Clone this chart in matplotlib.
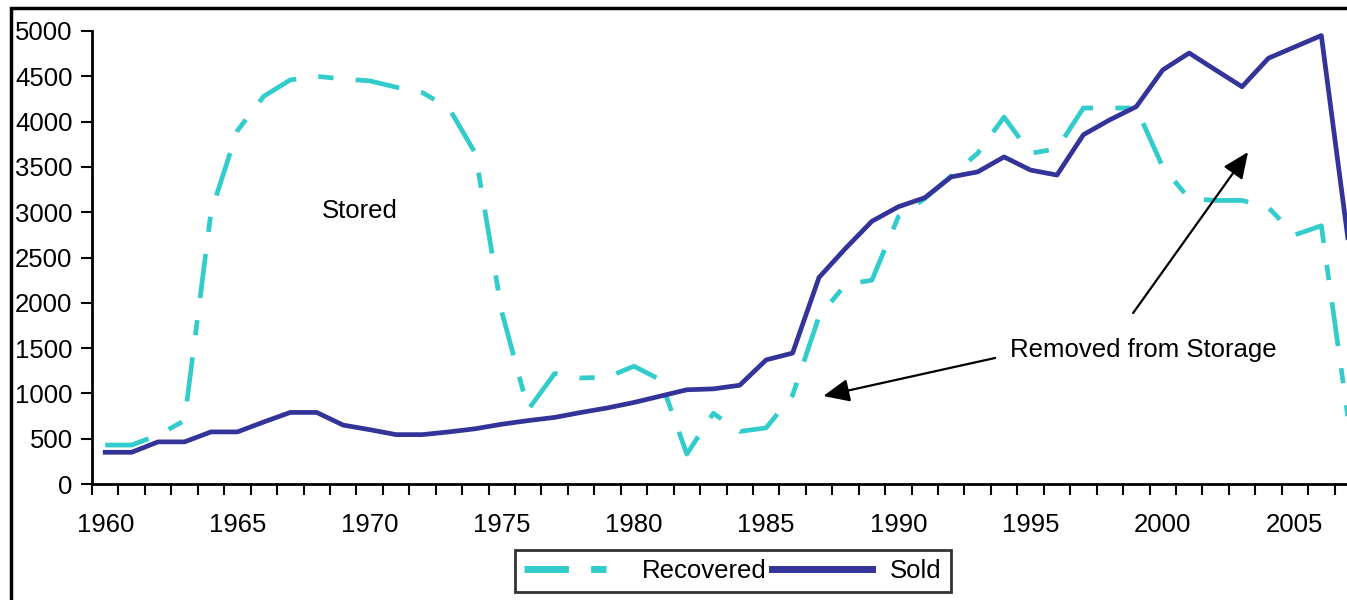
import matplotlib
matplotlib.use("Agg")
import matplotlib.pyplot as plt
from matplotlib.patches import Rectangle

# values
years = list(range(1960, 2008))
recovered = [430, 430, 540, 700, 3000, 3900, 4280, 4460, 4500, 4470,
             4450, 4380, 4320, 4150, 3650, 1900, 820, 1220, 1170, 1180,
             1300, 1150, 330, 780, 580, 620, 980, 1850, 2200, 2250,
             2950, 3150, 3400, 3650, 4050, 3650, 3700, 4150, 4150, 4150,
             3500, 3150, 3130, 3130, 3050, 2750, 2850, 750]
sold = [350, 350, 465, 465, 575, 575, 685, 790, 790, 650,
        600, 545, 545, 575, 610, 660, 700, 735, 790, 840,
        900, 970, 1040, 1050, 1090, 1370, 1445, 2280, 2600, 2900,
        3060, 3160, 3390, 3445, 3610, 3465, 3410, 3855, 4020, 4165,
        4570, 4757, 4570, 4385, 4700, 4825, 4950, 2720]
label_years = [1960, 1965, 1970, 1975, 1980, 1985, 1990, 1995, 2000, 2005]
y_ticks = [0, 500, 1000, 1500, 2000, 2500, 3000, 3500, 4000, 4500, 5000]

plt.rcParams['font.family'] = ['Liberation Sans', 'DejaVu Sans']
plt.rcParams['lines.scale_dashes'] = False
fs = 18.5

fig = plt.figure(figsize=(13.47, 6.0), dpi=100)
ax = fig.add_axes([92/1347, 116/600, 1269/1347, 453/600])

ax.plot(years, recovered, color='#33CCCC', lw=3.4,
        linestyle=(0, (32, 16, 11, 16)), label='Recovered')
ax.plot(years, sold, color='#333399', lw=3.4, label='Sold')

ax.set_xlim(1959.5, 2007.5)
ax.set_ylim(0, 5000)

# category style axis: ticks between years, labels on every fifth year
ax.set_xticks([y - 0.5 for y in years] + [2007.5])
ax.set_xticklabels([])
ax.set_xticks(label_years, minor=True)
ax.set_xticklabels([str(y) for y in label_years], minor=True, fontsize=fs)
ax.tick_params(axis='x', which='major', length=8, width=1.5, direction='out')
ax.tick_params(axis='x', which='minor', length=0, pad=21)
ax.set_yticks(y_ticks)
ax.set_yticklabels([str(v) for v in y_ticks], fontsize=fs)
ax.tick_params(axis='y', length=8, width=1.5, direction='out', pad=6)

for s in ['top', 'right']:
    ax.spines[s].set_visible(False)
for s in ['left', 'bottom']:
    ax.spines[s].set_linewidth(2)

ax.text(1969.64, 3013, 'Stored', fontsize=fs, ha='center', va='center')
ax.text(1999.26, 1479, 'Removed from Storage', fontsize=fs,
        ha='center', va='center')
arrow = dict(arrowstyle='-|>,head_length=0.8,head_width=0.35',
             color='black', lw=1.6, mutation_scale=20, shrinkA=0, shrinkB=0)
ax.annotate('', xy=(1987.16, 971), xytext=(1993.66, 1391), arrowprops=arrow)
ax.annotate('', xy=(2003.23, 3664), xytext=(1998.88, 1887), arrowprops=arrow)

leg = ax.legend(loc='center', bbox_to_anchor=(733/1347, 1 - 571/600),
                bbox_transform=fig.transFigure, ncol=2, fontsize=fs,
                frameon=True, fancybox=False, handlelength=3.9,
                handletextpad=0.7, columnspacing=0.2, borderpad=0.35,
                borderaxespad=0)
leg.get_frame().set_edgecolor('black')
leg.get_frame().set_linewidth(2)
for line in leg.get_lines():
    line.set_linewidth(5)

# outer chart border (partly cropped in the reference)
fig.patches.append(Rectangle((11/1347, -0.1), 1.2, 1.1 - 8/600,
                             transform=fig.transFigure, fill=False,
                             edgecolor='black', lw=2.5))

fig.savefig('out.png', dpi=100)
